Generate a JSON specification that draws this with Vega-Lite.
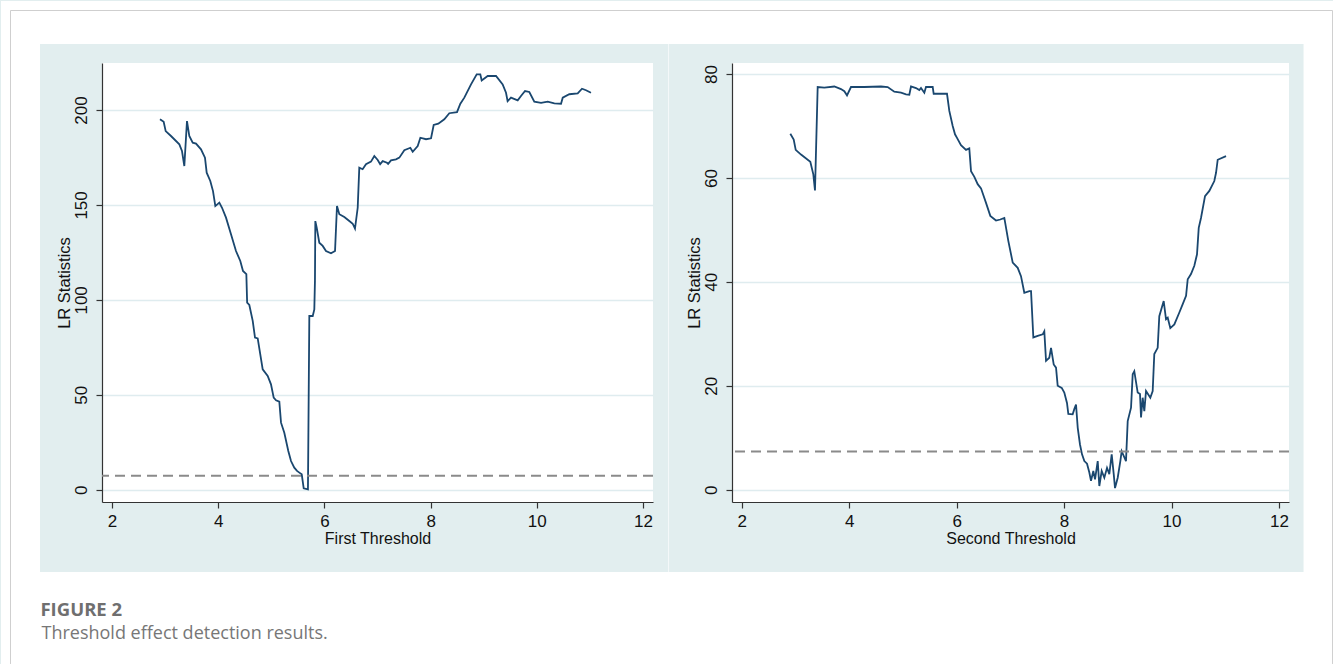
{
  "$schema": "https://vega.github.io/schema/vega-lite/v6.json",
  "background": "#e2eeef",
  "padding": 0,
  "autosize": {"type": "pad"},
  "bounds": "flush",
  "spacing": 79,
  "config": {
    "font": "Liberation Sans",
    "view": {"fill": "white", "stroke": null},
    "axis": {
      "domainColor": "#333333", "domainWidth": 1.2,
      "tickColor": "#333333", "tickWidth": 1.2, "tickSize": 6,
      "labelColor": "#111111", "titleColor": "#111111", "titleFontWeight": "normal",
      "labelFlush": false, "labelOverlap": false
    },
    "axisX": {
      "grid": false,
      "labelFont": "Liberation Sans", "labelFontSize": 17, "labelPadding": 5,
      "titleFont": "Liberation Sans", "titleFontSize": 16, "titlePadding": 1
    },
    "axisY": {
      "grid": true, "gridColor": "#dfecef", "gridWidth": 1.5,
      "labelFont": "Liberation Sans", "labelFontSize": 17, "labelAngle": 270, "labelAlign": "center", "labelBaseline": "bottom", "labelPadding": 6,
      "titleFont": "Liberation Sans", "titleFontSize": 16.5, "titlePadding": 0
    }
  },
  "datasets": {
    "first": [
      {"x": 2.904, "lr": 195.1}, {"x": 2.973, "lr": 193.8}, {"x": 3.011, "lr": 188.9}, {"x": 3.111, "lr": 186.3},
      {"x": 3.268, "lr": 181.9}, {"x": 3.318, "lr": 178.4}, {"x": 3.362, "lr": 170.5}, {"x": 3.412, "lr": 194.2},
      {"x": 3.456, "lr": 186.3}, {"x": 3.52, "lr": 182.8}, {"x": 3.582, "lr": 182.3}, {"x": 3.676, "lr": 179.3},
      {"x": 3.751, "lr": 174.9}, {"x": 3.783, "lr": 167.0}, {"x": 3.851, "lr": 162.6}, {"x": 3.902, "lr": 157.3},
      {"x": 3.946, "lr": 149.4}, {"x": 4.021, "lr": 151.2}, {"x": 4.072, "lr": 148.5}, {"x": 4.147, "lr": 143.3},
      {"x": 4.241, "lr": 134.5}, {"x": 4.335, "lr": 125.7}, {"x": 4.416, "lr": 120.5}, {"x": 4.467, "lr": 115.2},
      {"x": 4.53, "lr": 113.5}, {"x": 4.545, "lr": 98.5}, {"x": 4.586, "lr": 97.3}, {"x": 4.65, "lr": 88.9},
      {"x": 4.693, "lr": 80.1}, {"x": 4.744, "lr": 79.7}, {"x": 4.838, "lr": 63.4}, {"x": 4.932, "lr": 59.9},
      {"x": 4.994, "lr": 55.5}, {"x": 5.045, "lr": 48.5}, {"x": 5.089, "lr": 47.1}, {"x": 5.151, "lr": 46.4},
      {"x": 5.183, "lr": 35.3}, {"x": 5.245, "lr": 30.0}, {"x": 5.32, "lr": 20.4}, {"x": 5.371, "lr": 15.1},
      {"x": 5.433, "lr": 11.6}, {"x": 5.484, "lr": 9.9}, {"x": 5.528, "lr": 9.0}, {"x": 5.573, "lr": 8.1},
      {"x": 5.61, "lr": 0.7}, {"x": 5.69, "lr": 0.2}, {"x": 5.716, "lr": 91.5}, {"x": 5.78, "lr": 91.5},
      {"x": 5.81, "lr": 95.0}, {"x": 5.822, "lr": 110.0}, {"x": 5.829, "lr": 141.5}, {"x": 5.855, "lr": 138.0},
      {"x": 5.904, "lr": 130.1}, {"x": 5.968, "lr": 128.4}, {"x": 6.03, "lr": 125.7}, {"x": 6.124, "lr": 124.5},
      {"x": 6.2, "lr": 125.7}, {"x": 6.237, "lr": 149.4}, {"x": 6.281, "lr": 145.1}, {"x": 6.375, "lr": 143.6},
      {"x": 6.469, "lr": 141.5}, {"x": 6.533, "lr": 140.1}, {"x": 6.576, "lr": 137.5}, {"x": 6.627, "lr": 148.5},
      {"x": 6.657, "lr": 169.6}, {"x": 6.72, "lr": 168.8}, {"x": 6.783, "lr": 171.4}, {"x": 6.877, "lr": 172.8},
      {"x": 6.94, "lr": 175.8}, {"x": 7.004, "lr": 173.7}, {"x": 7.05, "lr": 171.5}, {"x": 7.098, "lr": 173.1},
      {"x": 7.179, "lr": 172.2}, {"x": 7.2, "lr": 171.6}, {"x": 7.254, "lr": 173.5}, {"x": 7.348, "lr": 174.0},
      {"x": 7.411, "lr": 174.9}, {"x": 7.505, "lr": 178.8}, {"x": 7.618, "lr": 180.1}, {"x": 7.663, "lr": 178.0},
      {"x": 7.757, "lr": 181.0}, {"x": 7.807, "lr": 185.4}, {"x": 7.913, "lr": 184.6}, {"x": 8.008, "lr": 185.1},
      {"x": 8.058, "lr": 192.1}, {"x": 8.145, "lr": 192.8}, {"x": 8.258, "lr": 195.1}, {"x": 8.352, "lr": 198.3},
      {"x": 8.497, "lr": 198.9}, {"x": 8.56, "lr": 203.3}, {"x": 8.635, "lr": 206.5}, {"x": 8.761, "lr": 213.5},
      {"x": 8.868, "lr": 218.8}, {"x": 8.936, "lr": 218.8}, {"x": 8.962, "lr": 215.6}, {"x": 9.075, "lr": 217.9},
      {"x": 9.232, "lr": 217.9}, {"x": 9.357, "lr": 213.5}, {"x": 9.42, "lr": 209.1}, {"x": 9.45, "lr": 204.7},
      {"x": 9.514, "lr": 206.5}, {"x": 9.64, "lr": 205.1}, {"x": 9.702, "lr": 207.4}, {"x": 9.778, "lr": 210.0},
      {"x": 9.859, "lr": 209.5}, {"x": 9.953, "lr": 204.4}, {"x": 10.079, "lr": 203.8}, {"x": 10.205, "lr": 204.4},
      {"x": 10.33, "lr": 203.5}, {"x": 10.456, "lr": 203.3}, {"x": 10.488, "lr": 206.5}, {"x": 10.612, "lr": 208.3},
      {"x": 10.77, "lr": 208.8}, {"x": 10.851, "lr": 211.2}, {"x": 10.927, "lr": 210.4}, {"x": 11.02, "lr": 209.1}
    ],
    "second": [
      {"x": 2.905, "lr": 68.5}, {"x": 2.968, "lr": 67.4}, {"x": 3.005, "lr": 65.4}, {"x": 3.104, "lr": 64.5},
      {"x": 3.277, "lr": 63.1}, {"x": 3.333, "lr": 60.7}, {"x": 3.364, "lr": 57.6}, {"x": 3.414, "lr": 77.5},
      {"x": 3.537, "lr": 77.4}, {"x": 3.724, "lr": 77.6}, {"x": 3.848, "lr": 77.1}, {"x": 3.91, "lr": 76.7},
      {"x": 3.96, "lr": 75.9}, {"x": 4.034, "lr": 77.5}, {"x": 4.282, "lr": 77.5}, {"x": 4.593, "lr": 77.6},
      {"x": 4.717, "lr": 77.5}, {"x": 4.84, "lr": 76.6}, {"x": 4.965, "lr": 76.4}, {"x": 5.058, "lr": 76.1},
      {"x": 5.12, "lr": 76.0}, {"x": 5.151, "lr": 77.6}, {"x": 5.244, "lr": 77.3}, {"x": 5.306, "lr": 76.9},
      {"x": 5.337, "lr": 77.3}, {"x": 5.399, "lr": 76.4}, {"x": 5.43, "lr": 77.5}, {"x": 5.555, "lr": 77.5},
      {"x": 5.573, "lr": 76.2}, {"x": 5.821, "lr": 76.2}, {"x": 5.864, "lr": 72.9}, {"x": 5.927, "lr": 70.0},
      {"x": 5.97, "lr": 68.4}, {"x": 6.007, "lr": 67.7}, {"x": 6.081, "lr": 66.3}, {"x": 6.175, "lr": 65.4},
      {"x": 6.236, "lr": 65.7}, {"x": 6.268, "lr": 61.3}, {"x": 6.33, "lr": 60.2}, {"x": 6.392, "lr": 58.8},
      {"x": 6.454, "lr": 58.0}, {"x": 6.547, "lr": 55.2}, {"x": 6.627, "lr": 52.7}, {"x": 6.733, "lr": 51.8},
      {"x": 6.813, "lr": 52.0}, {"x": 6.888, "lr": 52.3}, {"x": 6.962, "lr": 47.9}, {"x": 7.044, "lr": 43.7},
      {"x": 7.137, "lr": 42.7}, {"x": 7.198, "lr": 41.1}, {"x": 7.26, "lr": 37.9}, {"x": 7.353, "lr": 38.2},
      {"x": 7.385, "lr": 38.2}, {"x": 7.428, "lr": 29.3}, {"x": 7.509, "lr": 29.6}, {"x": 7.602, "lr": 29.9},
      {"x": 7.632, "lr": 30.5}, {"x": 7.664, "lr": 24.8}, {"x": 7.725, "lr": 25.4}, {"x": 7.757, "lr": 27.3},
      {"x": 7.807, "lr": 24.1}, {"x": 7.85, "lr": 23.5}, {"x": 7.881, "lr": 20.0}, {"x": 7.956, "lr": 19.6},
      {"x": 8.004, "lr": 18.7}, {"x": 8.054, "lr": 16.7}, {"x": 8.079, "lr": 14.6}, {"x": 8.16, "lr": 14.5},
      {"x": 8.19, "lr": 15.5}, {"x": 8.222, "lr": 16.4}, {"x": 8.254, "lr": 11.9}, {"x": 8.296, "lr": 8.7},
      {"x": 8.334, "lr": 6.8}, {"x": 8.377, "lr": 5.5}, {"x": 8.427, "lr": 5.0}, {"x": 8.47, "lr": 3.3},
      {"x": 8.501, "lr": 1.7}, {"x": 8.544, "lr": 3.6}, {"x": 8.576, "lr": 2.0}, {"x": 8.626, "lr": 5.5},
      {"x": 8.656, "lr": 0.7}, {"x": 8.7, "lr": 3.6}, {"x": 8.749, "lr": 2.3}, {"x": 8.799, "lr": 4.2},
      {"x": 8.842, "lr": 3.0}, {"x": 8.886, "lr": 6.8}, {"x": 8.924, "lr": 3.0}, {"x": 8.948, "lr": 0.3},
      {"x": 8.998, "lr": 2.3}, {"x": 9.047, "lr": 5.5}, {"x": 9.072, "lr": 7.4}, {"x": 9.152, "lr": 5.5},
      {"x": 9.184, "lr": 13.2}, {"x": 9.246, "lr": 15.8}, {"x": 9.277, "lr": 22.2}, {"x": 9.307, "lr": 22.8},
      {"x": 9.37, "lr": 18.7}, {"x": 9.413, "lr": 18.4}, {"x": 9.432, "lr": 13.9}, {"x": 9.463, "lr": 17.7},
      {"x": 9.493, "lr": 15.1}, {"x": 9.525, "lr": 19.0}, {"x": 9.605, "lr": 17.7}, {"x": 9.649, "lr": 19.0},
      {"x": 9.679, "lr": 26.1}, {"x": 9.742, "lr": 27.3}, {"x": 9.772, "lr": 33.4}, {"x": 9.854, "lr": 36.3},
      {"x": 9.897, "lr": 32.8}, {"x": 9.929, "lr": 33.1}, {"x": 9.977, "lr": 31.1}, {"x": 10.052, "lr": 31.8},
      {"x": 10.145, "lr": 34.1}, {"x": 10.208, "lr": 35.7}, {"x": 10.27, "lr": 37.3}, {"x": 10.301, "lr": 40.5},
      {"x": 10.362, "lr": 41.5}, {"x": 10.424, "lr": 43.1}, {"x": 10.474, "lr": 45.3}, {"x": 10.506, "lr": 50.4},
      {"x": 10.548, "lr": 52.3}, {"x": 10.623, "lr": 56.5}, {"x": 10.703, "lr": 57.5}, {"x": 10.796, "lr": 59.4},
      {"x": 10.828, "lr": 61.0}, {"x": 10.859, "lr": 63.5}, {"x": 11.014, "lr": 64.2}
    ]
  },
  "hconcat": [
    {
      "width": 551,
      "height": 439,
      "layer": [
        {
          "data": {"name": "first"},
          "mark": {"type": "line", "color": "#1a476f", "strokeWidth": 1.8},
          "encoding": {
            "x": {"field": "x", "type": "quantitative", "scale": {"domain": [1.8117, 12.188], "nice": false, "zero": false}, "axis": {"values": [2, 4, 6, 8, 10, 12], "title": "First Threshold"}},
            "y": {"field": "lr", "type": "quantitative", "scale": {"domain": [-6.48, 224.76], "nice": false, "zero": false}, "axis": {"values": [0, 50, 100, 150, 200], "title": "LR Statistics"}}
          }
        },
        {
          "data": {"values": [{}]},
          "mark": {"type": "rule", "color": "#8a8a8a", "strokeWidth": 1.8, "strokeDash": [10, 6]},
          "encoding": {
            "y": {"datum": 7.35, "type": "quantitative"}
          }
        },
        {
          "data": {"values": [{}]},
          "mark": {"type": "rect", "color": "white", "strokeWidth": 0},
          "encoding": {
            "x": {"datum": -0.0904, "type": "quantitative"},
            "x2": {"datum": 24.995},
            "y": {"datum": 257.42, "type": "quantitative"},
            "y2": {"datum": 234.77}
          }
        },
        {
          "data": {"values": [{}]},
          "mark": {"type": "rect", "color": "white", "strokeWidth": 0},
          "encoding": {
            "x": {"datum": -0.0904, "type": "quantitative"},
            "x2": {"datum": 0.6441},
            "y": {"datum": 257.42, "type": "quantitative"},
            "y2": {"datum": -91.8}
          }
        },
        {
          "data": {"values": [{}]},
          "mark": {"type": "rect", "color": "white", "strokeWidth": 0},
          "encoding": {
            "x": {"datum": 24.439, "type": "quantitative"},
            "x2": {"datum": 24.995},
            "y": {"datum": 257.42, "type": "quantitative"},
            "y2": {"datum": -91.8}
          }
        },
        {
          "data": {"values": [{}]},
          "mark": {"type": "rect", "color": "white", "strokeWidth": 0},
          "encoding": {
            "x": {"datum": -0.0904, "type": "quantitative"},
            "x2": {"datum": 24.995},
            "y": {"datum": -43.35, "type": "quantitative"},
            "y2": {"datum": -91.8}
          }
        },
        {
          "data": {"values": [{}]},
          "mark": {"type": "rect", "color": "#f4f8f9", "strokeWidth": 0},
          "encoding": {
            "x": {"datum": 12.471, "type": "quantitative"},
            "x2": {"datum": 12.49},
            "y": {"datum": 234.77, "type": "quantitative"},
            "y2": {"datum": -43.35}
          }
        },
        {
          "data": {"values": [{}]},
          "mark": {"type": "rule", "color": "#cfcfcf", "strokeWidth": 1},
          "encoding": {
            "x": {"datum": 0.0885, "type": "quantitative"},
            "x2": {"datum": 24.985},
            "y": {"datum": 252.41, "type": "quantitative"}
          }
        },
        {
          "data": {"values": [{}]},
          "mark": {"type": "rule", "color": "#cfcfcf", "strokeWidth": 1},
          "encoding": {
            "x": {"datum": 0.0885, "type": "quantitative"},
            "y": {"datum": 252.41, "type": "quantitative"},
            "y2": {"datum": -91.8}
          }
        },
        {
          "data": {"values": [{}]},
          "mark": {"type": "rule", "color": "#cfcfcf", "strokeWidth": 1},
          "encoding": {
            "x": {"datum": 24.985, "type": "quantitative"},
            "y": {"datum": 252.41, "type": "quantitative"},
            "y2": {"datum": -91.8}
          }
        },
        {
          "data": {"values": [{}]},
          "mark": {"type": "text", "text": "FIGURE 2", "align": "left", "baseline": "alphabetic", "font": "Open Sans", "fontSize": 18.5, "fontWeight": "bold", "color": "#6f6f6f"},
          "encoding": {
            "x": {"datum": 0.653, "type": "quantitative"},
            "y": {"datum": -66.52, "type": "quantitative"}
          }
        },
        {
          "data": {"values": [{}]},
          "mark": {"type": "text", "text": "Threshold effect detection results.", "align": "left", "baseline": "alphabetic", "font": "Open Sans", "fontSize": 18, "fontWeight": "normal", "color": "#777777"},
          "encoding": {
            "x": {"datum": 0.672, "type": "quantitative"},
            "y": {"datum": -78.79, "type": "quantitative"}
          }
        }
      ]
    },
    {
      "width": 557,
      "height": 439,
      "layer": [
        {
          "data": {"name": "second"},
          "mark": {"type": "line", "color": "#1a476f", "strokeWidth": 1.8},
          "encoding": {
            "x": {"field": "x", "type": "quantitative", "scale": {"domain": [1.8195, 12.186], "nice": false, "zero": false}, "axis": {"values": [2, 4, 6, 8, 10, 12], "title": "Second Threshold"}},
            "y": {"field": "lr", "type": "quantitative", "scale": {"domain": [-2.367, 82.12], "nice": false, "zero": false}, "axis": {"values": [0, 20, 40, 60, 80], "title": "LR Statistics"}}
          }
        },
        {
          "data": {"values": [{}]},
          "mark": {"type": "rule", "color": "#8a8a8a", "strokeWidth": 1.8, "strokeDash": [10, 6]},
          "encoding": {
            "y": {"datum": 7.35, "type": "quantitative"}
          }
        }
      ]
    }
  ]
}
